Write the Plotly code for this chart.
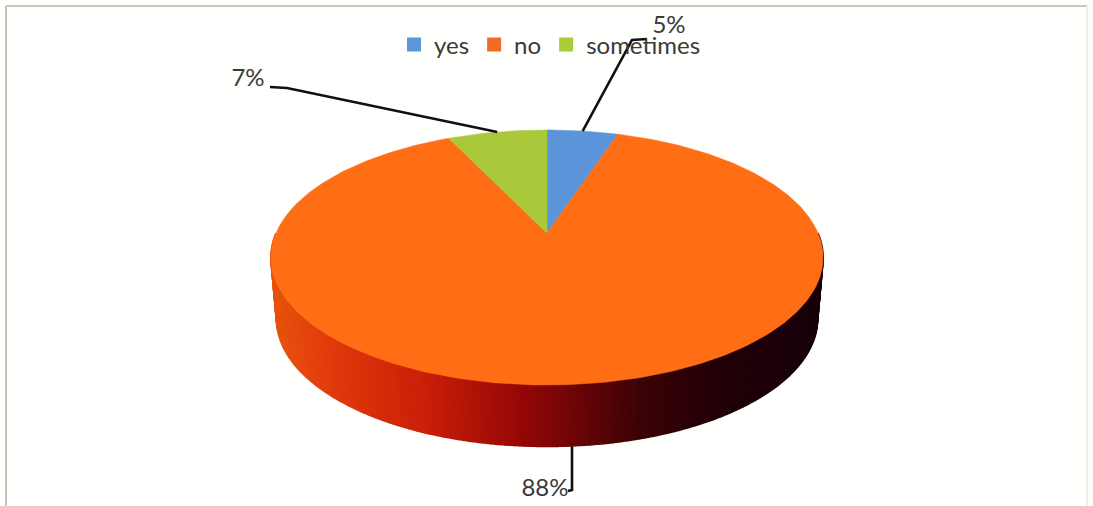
import numpy as np
import plotly.graph_objects as go

# ---- data ----
categories = ["yes", "no", "sometimes"]
values = [5, 88, 7]
slice_colors = ["#5b94d8", "#ff6e14", "#a9c83a"]
swatch_colors = ["#5b97dc", "#f06a28", "#a9cc3a"]

# ---- view of the tilted disc (pixel-like plot units) ----
CX, APEX_Y = 547.0, 233.0
C, A, D = -0.192, 78.1, 271.0
WALL_SHIFT, WALL_SCALE = 61.5, 0.98
TEXT = "#3a3a3a"


def rim(frac):
    """Project a pie fraction (clockwise from 12 o'clock) on the tilted disc."""
    t = 2 * np.pi * np.asarray(frac, dtype=float)
    x, y = np.sin(t), -np.cos(t)
    w = 1 + C * y
    return CX + D * x / w, (A * y + APEX_Y) / w


def bottom(frac):
    x, y = rim(frac)
    return CX + (x - CX) * WALL_SCALE, y + WALL_SHIFT


def wall_color(x):
    stops_x = [271, 330, 420, 520, 580, 640, 720, 824]
    r = [232, 226, 205, 150, 105, 60, 34, 24]
    g = [84, 58, 32, 8, 5, 3, 0, 0]
    b = [14, 12, 8, 6, 6, 6, 8, 10]
    return "rgb(%d,%d,%d)" % (np.interp(x, stops_x, r), np.interp(x, stops_x, g), np.interp(x, stops_x, b))


fig = go.Figure()

# side wall: front half of the rim, strip by strip
left = np.linspace(0.75, 0.5, 110)
right = np.linspace(0.5, 0.25, 110)
fr = np.concatenate([left, right[1:]])
for f0, f1 in zip(fr[:-1], fr[1:]):
    seg = np.linspace(f0, f1, 3)
    tx, ty = rim(seg)
    bx, by = bottom(seg[::-1])
    col = wall_color(tx.mean())
    fig.add_trace(go.Scatter(
        x=np.concatenate([tx, bx]), y=np.concatenate([ty, by]),
        mode="lines", fill="toself", fillcolor=col, line=dict(color=col, width=1.5),
        showlegend=False, hoverinfo="skip"))

# top face
total = sum(values)
cum = np.cumsum([0] + values) / total
for i, name in enumerate(categories):
    n = max(int(values[i] * 4), 12)
    fx, fy = rim(np.linspace(cum[i], cum[i + 1], n))
    fig.add_trace(go.Scatter(
        x=np.concatenate([[CX], fx, [CX]]), y=np.concatenate([[APEX_Y], fy, [APEX_Y]]),
        mode="lines", fill="toself", fillcolor=slice_colors[i],
        line=dict(color=slice_colors[i], width=0.5),
        name=name, showlegend=False, hoverinfo="name"))

# legend entries
for name, col in zip(categories, swatch_colors):
    fig.add_trace(go.Scatter(x=[None], y=[None], mode="markers", name=name,
                             marker=dict(symbol="square", size=14, color=col)))

# leader lines from the middle of each slice, and labels
mid = (cum[:-1] + cum[1:]) / 2
elbows = [[(632, 40), (647, 39)], [(572, 490), (568, 491)], [(287, 88), (270, 87)]]
label_pos = [(669, 27), (545, 490), (248, 80)]
for i in range(3):
    sx, sy = rim(mid[i]) if i != 1 else bottom(mid[i])
    if i == 1:
        sx = elbows[i][0][0]  # this leader drops straight down
    xs = [float(sx)] + [p[0] for p in elbows[i]]
    ys = [float(sy)] + [p[1] for p in elbows[i]]
    fig.add_trace(go.Scatter(x=xs, y=ys, mode="lines", line=dict(color="#111111", width=2.6),
                             showlegend=False, hoverinfo="skip"))
    fig.add_trace(go.Scatter(x=[label_pos[i][0]], y=[label_pos[i][1]], mode="text",
                             text=[f"{values[i]}%"], textposition="middle center",
                             textfont=dict(family="Lato", size=24, color=TEXT),
                             showlegend=False, hoverinfo="skip"))

# page frame
frame = [((6, 6), (6, 506), "#c4c6b4", 2), ((6, 6), (1087, 6), "#c8c8b8", 2), ((1087, 6), (1087, 506), "#eeeee2", 2)]
shapes = [dict(type="line", xref="x", yref="y", x0=a[0], y0=a[1], x1=b[0], y1=b[1],
               line=dict(color=c, width=w)) for a, b, c, w in frame]

fig.update_layout(
    width=1093, height=506, margin=dict(l=0, r=0, t=0, b=0),
    paper_bgcolor="#fffffd", plot_bgcolor="#fffffd",
    xaxis=dict(range=[0, 1093], visible=False, fixedrange=True),
    yaxis=dict(range=[506, 0], visible=False, fixedrange=True),
    shapes=shapes,
    legend=dict(orientation="h", x=394 / 1093, xanchor="left", y=1 - 45 / 506, yanchor="middle",
                font=dict(family="Lato", size=24, color=TEXT), bgcolor="rgba(0,0,0,0)",
                itemclick=False, itemdoubleclick=False, traceorder="normal"),
)

fig.write_html("out.html", config=dict(displayModeBar=False),
               post_script="document.body.style.margin='0';document.documentElement.style.overflow='hidden';document.body.style.background='#fffffd';")
